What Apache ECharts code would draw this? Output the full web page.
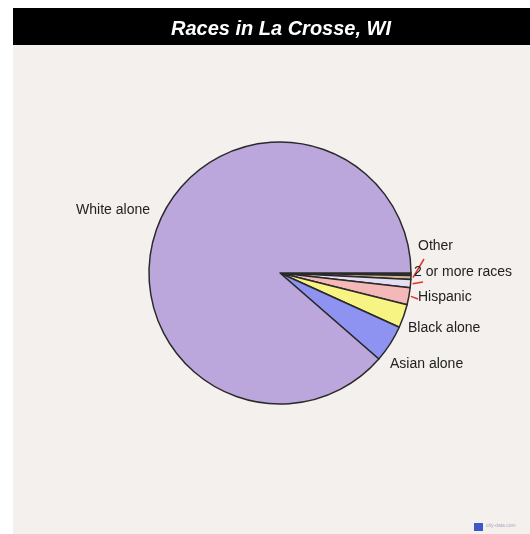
<!DOCTYPE html>
<html><head><meta charset="utf-8">
<script src="https://cdn.jsdelivr.net/npm/echarts@6/dist/echarts.min.js"></script>
<style>html,body{margin:0;padding:0;background:#fff}#c{width:530px;height:534px}</style>
</head><body><div id="c"></div>
<script>
const titleText = 'Races in La Crosse, WI';
const categories = ['American Indian alone','Other','2 or more races','Hispanic','Black alone','Asian alone','White alone'];
const values = [0.3, 0.5, 1.0, 2.1, 2.9, 4.6, 88.6];
const colors = ['#3a3530','#cbb68e','#e8def4','#f4b8b8','#f8f483','#8e92f0','#bba7db'];
const showLabel = [false, true, true, true, true, true, true];
const redLine = [false, true, true, true, false, false, false];

// label placement (style, not data)
const labelPlace = {
  'White alone':[150,210,'right'],
  'Other':[418,246,'left'],
  '2 or more races':[414,272,'left'],
  'Hispanic':[418,297,'left'],
  'Black alone':[408,328,'left'],
  'Asian alone':[390,364,'left']
};
const lineEnd = {
  'Other':[424,259],
  '2 or more races':[423,282],
  'Hispanic':[418,299]
};

const chart = echarts.init(document.getElementById('c'));
const data = categories.map((n,i)=>({
  name:n, value:values[i],
  itemStyle:{color:colors[i]},
  label:{show:showLabel[i]},
  labelLine:{show:redLine[i], lineStyle:{color:'#e8302a', width:1.5}}
}));
chart.setOption({
  backgroundColor:'#ffffff',
  graphic:[
    {type:'rect', shape:{x:13,y:45,width:517,height:489}, style:{fill:'#f3f0ed'}, z:-10},
    {type:'rect', shape:{x:13,y:8,width:517,height:37}, style:{fill:'#000'}, z:-5},
    {type:'rect', shape:{x:474,y:523,width:9,height:8}, style:{fill:'#4057c8'}},
    {type:'text', style:{x:486,y:523,text:'city-data.com',fill:'#aab',font:'5px Liberation Sans'}}
  ],
  title:{text:titleText, left:276, top:14, textAlign:'center',
    textStyle:{color:'#fff', fontStyle:'italic', fontWeight:'bold', fontSize:20, fontFamily:'Liberation Sans'}},
  series:[{
    type:'pie', center:[280,273], radius:131, startAngle:0, clockwise:true,
    animation:false, avoidLabelOverlap:false,
    itemStyle:{borderColor:'#2a2a2a', borderWidth:1.5},
    label:{position:'outside', color:'#222', fontSize:14, fontFamily:'Liberation Sans'},
    labelLine:{length:4, length2:4},
    labelLayout:function(p){
      const name = categories[p.dataIndex];
      const pl = labelPlace[name];
      if(!pl) return {};
      const r = {x:pl[0], y:pl[1], align:pl[2], verticalAlign:'middle'};
      const le = lineEnd[name];
      if(le && p.labelLinePoints){
        const s = p.labelLinePoints[0];
        r.labelLinePoints = [[s[0]+2,s[1]],[le[0],le[1]],[le[0],le[1]]];
      }
      return r;
    },
    data:data
  }]
});
</script></body></html>
